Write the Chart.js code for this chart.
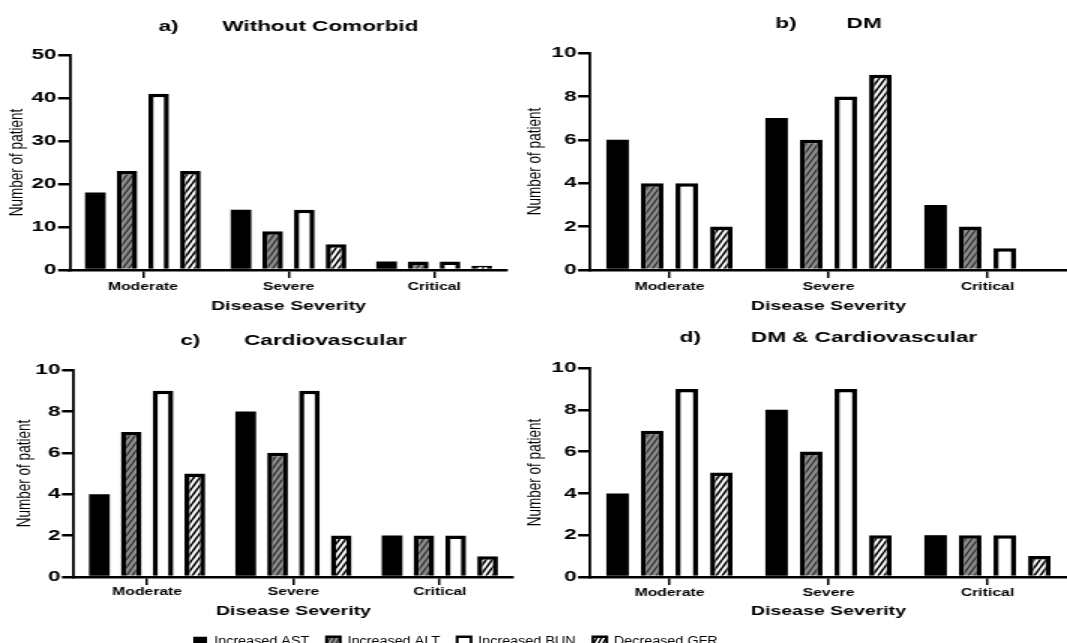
<!DOCTYPE html>
<html>
<head>
<meta charset="utf-8">
<script src="https://cdn.jsdelivr.net/npm/chart.js@4.4.1/dist/chart.umd.min.js"></script>
<style>
  html, body { margin: 0; padding: 0; background: #fff; overflow: hidden; }
  body { width: 1067px; height: 643px; position: relative; }
  .panel { position: absolute; transform-origin: 0 0; transform: scaleX(1.5); }
  .panel canvas { display: block; }
  #legendBox { transform: scaleX(1.15); }
</style>
</head>
<body>
<div class="panel" style="left:0px;top:0px"><canvas id="chartA" width="355" height="320"></canvas></div>
<div class="panel" style="left:518px;top:0px"><canvas id="chartB" width="366" height="320"></canvas></div>
<div class="panel" style="left:0px;top:320px"><canvas id="chartC" width="355" height="300"></canvas></div>
<div class="panel" style="left:518px;top:320px"><canvas id="chartD" width="366" height="300"></canvas></div>
<div class="panel" id="legendBox" style="left:0px;top:620px"><canvas id="legendChart" width="928" height="60"></canvas></div>

<script>
const FONT = '"Liberation Sans", Arial, sans-serif';

const severities = ['Moderate', 'Severe', 'Critical'];
const seriesNames = ['Increased AST', 'Increased ALT', 'Increased BUN', 'Decreased GFR'];

// a) Without Comorbid
const noneAST = [18, 14, 2];
const noneALT = [23, 9, 2];
const noneBUN = [41, 14, 2];
const noneGFR = [23, 6, 1];

// b) DM
const dmAST = [6, 7, 3];
const dmALT = [4, 6, 2];
const dmBUN = [4, 8, 1];
const dmGFR = [2, 9, 0];

// c) Cardiovascular
const cvAST = [4, 8, 2];
const cvALT = [7, 6, 2];
const cvBUN = [9, 9, 2];
const cvGFR = [5, 2, 1];

// d) DM & Cardiovascular
const dmCvAST = [4, 8, 2];
const dmCvALT = [7, 6, 2];
const dmCvBUN = [9, 9, 2];
const dmCvGFR = [5, 2, 1];

const ticksTo50 = [0, 10, 20, 30, 40, 50];
const ticksTo10 = [0, 2, 4, 6, 8, 10];

// diagonal hatch tile (drawn in unstretched px, the page stretches it sideways)
function stripes(bg, fg, lw) {
    const w = 4, h = 8;
    const c = document.createElement('canvas');
    c.width = w;
    c.height = h;
    const x = c.getContext('2d');
    x.fillStyle = bg;
    x.fillRect(0, 0, w, h);
    x.strokeStyle = fg;
    x.lineWidth = lw;
    x.beginPath();
    for (const dx of [-w, 0, w]) {
        x.moveTo(dx, h);
        x.lineTo(dx + w, 0);
    }
    x.stroke();
    return x.createPattern(c, 'repeat');
}

function seriesStyles(borderWidth) {
    return [
        { backgroundColor: '#000', borderColor: '#000', borderWidth: 0 },
        { backgroundColor: stripes('#8e8e8e', '#333', 1.4), borderColor: '#000', borderWidth: borderWidth },
        { backgroundColor: '#fff', borderColor: '#000', borderWidth: borderWidth },
        { backgroundColor: stripes('#fff', '#000', 1.6), borderColor: '#000', borderWidth: borderWidth }
    ];
}

function makePanel(id, title, series, tickVals, g) {
    const ctx = document.getElementById(id);
    const styles = seriesStyles(3.5);
    return new Chart(ctx, {
        type: 'bar',
        data: {
            labels: severities,
            datasets: series.map((vals, i) => Object.assign({
                label: seriesNames[i],
                data: vals,
                borderSkipped: 'start',
                inflateAmount: 0,
                barPercentage: 0.65,
                categoryPercentage: 0.87
            }, styles[i]))
        },
        options: {
            responsive: false,
            animation: false,
            layout: { padding: { left: 0, right: g.padRight, top: 0, bottom: 0 } },
            plugins: {
                legend: { display: false },
                tooltip: { enabled: false },
                title: {
                    display: true,
                    text: title,
                    fullSize: false,
                    color: '#000',
                    font: { family: FONT, size: 15, weight: 'bold' },
                    padding: { top: g.titleTop, bottom: g.titleBottom }
                }
            },
            scales: {
                x: {
                    afterFit: s => { s.height = g.xHeight; },
                    border: { color: '#000', width: 2.5 },
                    grid: { drawOnChartArea: false, offset: false, color: '#000', lineWidth: 1.5, tickLength: 8 },
                    ticks: {
                        color: '#000',
                        font: { family: FONT, size: 10.5, weight: 'bold' },
                        padding: g.xTickPad,
                        maxRotation: 0,
                        autoSkip: false
                    },
                    title: {
                        display: true,
                        text: 'Disease Severity',
                        color: '#000',
                        font: { family: FONT, size: 13, weight: 'bold' },
                        padding: { top: 0, bottom: g.xTitlePad }
                    }
                },
                y: {
                    min: tickVals[0],
                    max: tickVals[tickVals.length - 1],
                    afterBuildTicks: s => { s.ticks = tickVals.map(v => ({ value: v })); },
                    afterFit: s => { s.width = g.yWidth; },
                    border: { color: '#000', width: 1.8 },
                    grid: { drawOnChartArea: false, color: '#000', lineWidth: 2.5, tickLength: 8 },
                    ticks: {
                        color: '#000',
                        font: { family: FONT, size: 15, weight: 'bold' },
                        padding: 1
                    },
                    title: {
                        display: true,
                        text: 'Number of patient',
                        color: '#000',
                        font: { family: FONT, size: 13.5 },
                        padding: { top: g.yTitlePad, bottom: 0 }
                    }
                }
            }
        }
    });
}

makePanel('chartA', 'a)       Without Comorbid', [noneAST, noneALT, noneBUN, noneGFR], ticksTo50,
    { yWidth: 46.7, padRight: 17, xHeight: 50, xTickPad: 3, xTitlePad: 6.2, titleTop: 18, titleBottom: 19, yTitlePad: 3 });
makePanel('chartB', 'b)        DM', [dmAST, dmALT, dmBUN, dmGFR], ticksTo10,
    { yWidth: 48, padRight: 0, xHeight: 50, xTickPad: 3, xTitlePad: 6.2, titleTop: 15, titleBottom: 20, yTitlePad: 3 });
makePanel('chartC', 'c)       Cardiovascular', [cvAST, cvALT, cvBUN, cvGFR], ticksTo10,
    { yWidth: 49.3, padRight: 13, xHeight: 43, xTickPad: 1.2, xTitlePad: 1.2, titleTop: 12, titleBottom: 20, yTitlePad: 7.8 });
makePanel('chartD', 'd)        DM & Cardiovascular', [dmCvAST, dmCvALT, dmCvBUN, dmCvGFR], ticksTo10,
    { yWidth: 48, padRight: 0, xHeight: 43, xTickPad: 2.2, xTitlePad: 0.5, titleTop: 9, titleBottom: 21, yTitlePad: 3 });

const legendStyles = seriesStyles(2.5);
new Chart(document.getElementById('legendChart'), {
    type: 'bar',
    data: {
        labels: [''],
        datasets: seriesNames.map((n, i) => Object.assign({ label: n, data: [0] }, legendStyles[i]))
    },
    options: {
        responsive: false,
        animation: false,
        layout: { padding: { left: 153, right: 0, top: 0, bottom: 0 } },
        scales: { x: { display: false }, y: { display: false } },
        plugins: {
            tooltip: { enabled: false },
            legend: {
                display: true,
                position: 'top',
                align: 'start',
                maxHeight: 60,
                labels: {
                    boxWidth: 12,
                    boxHeight: 9,
                    padding: 15,
                    color: '#000',
                    font: { family: FONT, size: 12.5 }
                }
            }
        }
    }
});
</script>
</body>
</html>
